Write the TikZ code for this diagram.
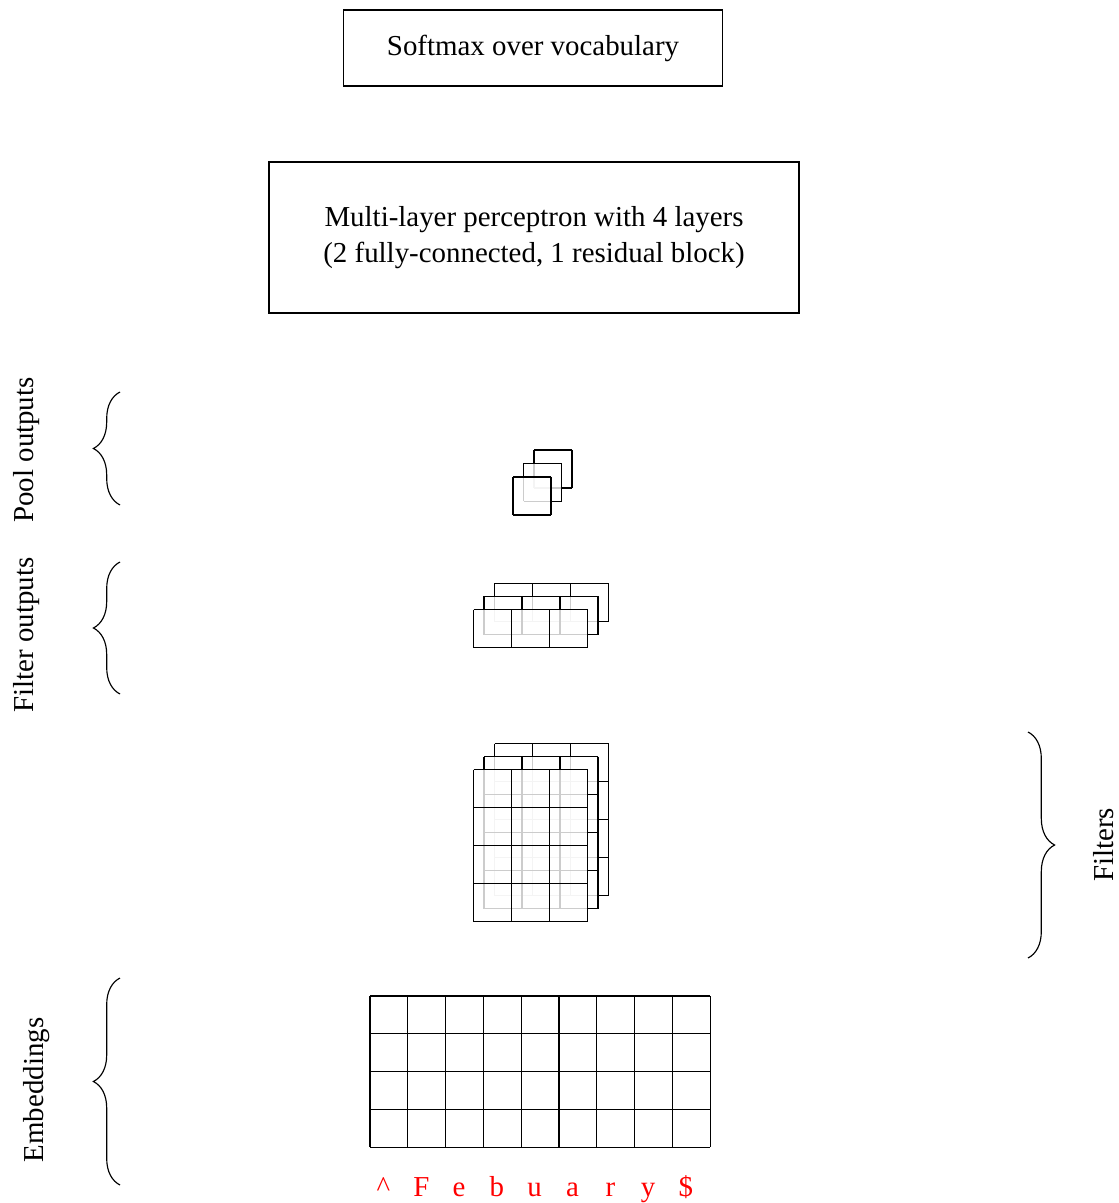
\documentclass[tikz,border=0pt]{standalone}
\usepackage{fontspec}
\setmainfont{Liberation Serif}
\usetikzlibrary{decorations.pathreplacing}

% one feature-map layer: top-left x, top-left y, columns, rows, cell size
\newcommand\fmaplayer[5]{%
  \fill[layerfill] (#1,#2) rectangle ({#1+#3*#5},{#2+#4*#5});
  \foreach \cc in {0,...,#3}{\draw[cellline] ({#1+\cc*#5},#2) -- ({#1+\cc*#5},{#2+#4*#5});}
  \foreach \rr in {0,...,#4}{\draw[cellline] (#1,{#2+\rr*#5}) -- ({#1+#3*#5},{#2+\rr*#5});}
}

\tikzset{
  layerfill/.style={white, fill opacity=0.8},
  cellline/.style={black, line width=0.4pt},
  boxnode/.style={draw, line width=0.4pt, align=center, inner sep=0pt},
  sidelabel/.style={rotate=90, anchor=base, inner sep=0pt},
  charlabel/.style={red, anchor=base, inner sep=0pt},
  bracepath/.style={decorate, decoration={brace, amplitude=9.2pt}, line width=0.4pt},
}

\begin{document}
\begin{tikzpicture}[x=0.346pt, y=-0.346pt]
\useasboundingbox (0,0) rectangle (1118,1203);

% output stage
\node[boxnode, minimum width=131.1pt, minimum height=26.3pt] (softmax) at (533,48) {Softmax over vocabulary};
\node[boxnode, minimum width=183.4pt, minimum height=52.2pt, font=\fontsize{10}{12.5}\selectfont] (mlp) at (534,237.5)
  {Multi-layer perceptron with 4 layers\\(2 fully-connected, 1 residual block)};

% pooled outputs
\fmaplayer{534}{450}{1}{1}{38}
\fmaplayer{523.5}{463.5}{1}{1}{38}
\fmaplayer{513}{477}{1}{1}{38}

% filter outputs
\fmaplayer{494.5}{583.5}{3}{1}{38}
\fmaplayer{484}{596.5}{3}{1}{38}
\fmaplayer{473.5}{609.5}{3}{1}{38}

% filters
\fmaplayer{494.5}{743.5}{3}{4}{38}
\fmaplayer{484}{756.5}{3}{4}{38}
\fmaplayer{473.5}{769.5}{3}{4}{38}

% character embeddings
\fmaplayer{370}{996}{9}{4}{37.8}

% input characters
\foreach \ch [count=\i from 0] in {\textasciicircum,F,e,b,u,a,r,y,\$}{
  \node[charlabel] (c\i) at ({383.5+37.8*\i},1196.5) {\ch};
}

% braces
\coordinate (poolT) at (120,392);   \coordinate (poolB) at (120,505);
\coordinate (filtT) at (120,562);   \coordinate (filtB) at (120,694);
\coordinate (embT)  at (120,978);   \coordinate (embB)  at (120,1185);
\coordinate (fltT)  at (1028,732);  \coordinate (fltB)  at (1028,958);
\draw[bracepath] (poolB) -- (poolT);
\draw[bracepath] (filtB) -- (filtT);
\draw[bracepath] (embB) -- (embT);
\draw[bracepath] (fltT) -- (fltB);

% side labels
\node[sidelabel] (lpool) at (33,450) {Pool outputs};
\node[sidelabel] (lfilt) at (33,635) {Filter outputs};
\node[sidelabel] (lemb)  at (43,1090) {Embeddings};
\node[sidelabel] (lflt)  at (1113,845) {Filters};
\end{tikzpicture}
\end{document}
